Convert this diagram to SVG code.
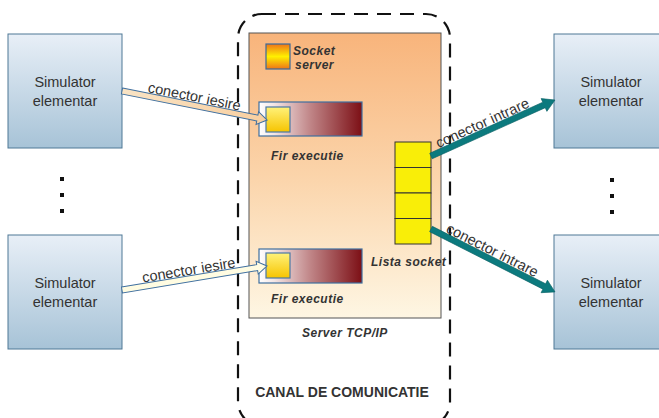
<svg xmlns="http://www.w3.org/2000/svg" width="659" height="418" viewBox="0 0 659 418">
  <defs>
    <linearGradient id="simFill" x1="0" y1="0" x2="0" y2="1">
      <stop offset="0" stop-color="#E8EFF7"/>
      <stop offset="1" stop-color="#A7C3D7"/>
    </linearGradient>
    <linearGradient id="serverFill" x1="0" y1="0" x2="0" y2="1">
      <stop offset="0" stop-color="#F8B47B"/>
      <stop offset="0.5" stop-color="#FBD4AA"/>
      <stop offset="1" stop-color="#FEF6E3"/>
    </linearGradient>
    <linearGradient id="threadFill" x1="0" y1="0" x2="1" y2="0">
      <stop offset="0" stop-color="#FFFFFF"/>
      <stop offset="0.15" stop-color="#F2E4E4"/>
      <stop offset="0.5" stop-color="#C08587"/>
      <stop offset="1" stop-color="#7C0F15"/>
    </linearGradient>
    <linearGradient id="yellowSq" x1="0" y1="0" x2="0" y2="1">
      <stop offset="0" stop-color="#FFF27A"/>
      <stop offset="1" stop-color="#F6C400"/>
    </linearGradient>
    <linearGradient id="sockIcon" x1="0" y1="0" x2="0" y2="1">
      <stop offset="0" stop-color="#EE7418"/>
      <stop offset="0.5" stop-color="#FFF000"/>
      <stop offset="1" stop-color="#EE7418"/>
    </linearGradient>
    <linearGradient id="outTop" x1="0" y1="0" x2="1" y2="0">
      <stop offset="0" stop-color="#F9E3C4"/>
      <stop offset="1" stop-color="#F8CFA0"/>
    </linearGradient>
    <style>
      .sim { fill: url(#simFill); stroke: #4E7896; stroke-width: 1; }
      .simtxt { font-family: "Liberation Sans", Arial, sans-serif; font-size: 14.5px; fill: #333; text-anchor: middle; }
      .lbl { font-family: "Liberation Sans", Arial, sans-serif; font-size: 14.5px; fill: #333; }
      .bi { font-family: "Liberation Sans", Arial, sans-serif; font-size: 12px; font-weight: bold; font-style: italic; fill: #333; letter-spacing: 0.5px; }
      .title { font-family: "Liberation Sans", Arial, sans-serif; font-size: 14px; font-weight: bold; fill: #333; text-anchor: middle; }
      .dot { fill: #111; }
      .thread { fill: url(#threadFill); stroke: #3F6F9F; stroke-width: 1.2; }
      .sq { fill: url(#yellowSq); stroke: #4A78A6; stroke-width: 1.2; }
      .cell { fill: #F9EE08; stroke: #333; stroke-width: 1; }
      .outArrow { stroke: #3F6F9F; stroke-width: 1; stroke-linejoin: miter; }
      .inArrow { fill: #0C7A7E; stroke: #0A6266; stroke-width: 0.6; }
    </style>
  </defs>

  <!-- communication channel boundary -->
  <g id="canal">
    <rect x="238" y="14" width="212" height="412" rx="24" ry="24" fill="none" stroke="#111" stroke-width="2.2" stroke-dasharray="14 9"/>
    <text class="title" x="342" y="397">CANAL DE COMUNICATIE</text>
  </g>

  <!-- TCP/IP server -->
  <g id="server">
    <rect x="249" y="33" width="192" height="285" fill="url(#serverFill)" stroke="#555" stroke-width="1"/>
    <text class="bi" x="302" y="337">Server TCP/IP</text>
  </g>

  <g id="socket-server">
    <rect x="266" y="44" width="24" height="25" fill="url(#sockIcon)" stroke="#3A6A9A" stroke-width="1.2"/>
    <text class="bi" x="293" y="55">Socket</text>
    <text class="bi" x="295" y="69">server</text>
  </g>

  <g id="fir-executie-1">
    <rect class="thread" x="259" y="102" width="103" height="34"/>
    <rect class="sq" x="266" y="107" width="24" height="25"/>
    <text class="bi" x="271" y="160">Fir executie</text>
  </g>

  <g id="fir-executie-2">
    <rect class="thread" x="259" y="249" width="103" height="34"/>
    <rect class="sq" x="266" y="253" width="24" height="25"/>
    <text class="bi" x="271" y="303">Fir executie</text>
  </g>

  <g id="lista-socket">
    <rect class="cell" x="395" y="142" width="36" height="25.5"/>
    <rect class="cell" x="395" y="167.5" width="36" height="25.5"/>
    <rect class="cell" x="395" y="193" width="36" height="25.5"/>
    <rect class="cell" x="395" y="218.5" width="36" height="25.5"/>
    <text class="bi" x="371" y="266">Lista socket</text>
  </g>

  <!-- simulators -->
  <g id="sim-left-1">
    <rect class="sim" x="8" y="34" width="114" height="114"/>
    <text class="simtxt" x="65" y="87">Simulator</text>
    <text class="simtxt" x="65" y="106">elementar</text>
  </g>
  <g id="sim-left-2">
    <rect class="sim" x="8" y="235" width="114" height="114"/>
    <text class="simtxt" x="65" y="288">Simulator</text>
    <text class="simtxt" x="65" y="307">elementar</text>
  </g>
  <g id="sim-right-1">
    <rect class="sim" x="554" y="34" width="114" height="114"/>
    <text class="simtxt" x="611" y="87">Simulator</text>
    <text class="simtxt" x="611" y="106">elementar</text>
  </g>
  <g id="sim-right-2">
    <rect class="sim" x="554" y="235" width="114" height="114"/>
    <text class="simtxt" x="611" y="288">Simulator</text>
    <text class="simtxt" x="611" y="307">elementar</text>
  </g>

  <!-- ellipsis between simulators -->
  <g id="dots-left">
    <rect class="dot" x="60" y="177" width="4" height="4"/>
    <rect class="dot" x="60" y="193" width="4" height="4"/>
    <rect class="dot" x="60" y="209" width="4" height="4"/>
  </g>
  <g id="dots-right">
    <rect class="dot" x="610" y="178" width="4" height="4"/>
    <rect class="dot" x="610" y="194" width="4" height="4"/>
    <rect class="dot" x="610" y="210" width="4" height="4"/>
  </g>

  <!-- connectors -->
  <g id="connectors">
    <!-- output connectors: simulator to execution thread -->
    <g transform="translate(122,91) rotate(11.31)">
      <polygon class="outArrow" fill="url(#outTop)" points="0,-3 138,-3 138,-6.5 148,0 138,6.5 138,3 0,3"/>
      <text class="lbl" x="25" y="-4">conector iesire</text>
    </g>
    <g transform="translate(122,290) rotate(-9.4)">
      <polygon class="outArrow" fill="#FFFCE2" points="0,-3 137,-3 137,-6.5 147,0 137,6.5 137,3 0,3"/>
      <text class="lbl" x="22" y="-4">conector iesire</text>
    </g>
    <!-- input connectors: socket list to simulator -->
    <g transform="translate(431,156) rotate(-24.3)">
      <polygon class="inArrow" points="0,-3 124,-3 124,-7 136,0 124,7 124,3 0,3"/>
      <text class="lbl" x="10" y="-4">conector intrare</text>
    </g>
    <g transform="translate(431,229) rotate(26.9)">
      <polygon class="inArrow" points="0,-3 127,-3 127,-7 139,0 127,7 127,3 0,3"/>
      <text class="lbl" x="14" y="-4">conector intrare</text>
    </g>
  </g>
</svg>
